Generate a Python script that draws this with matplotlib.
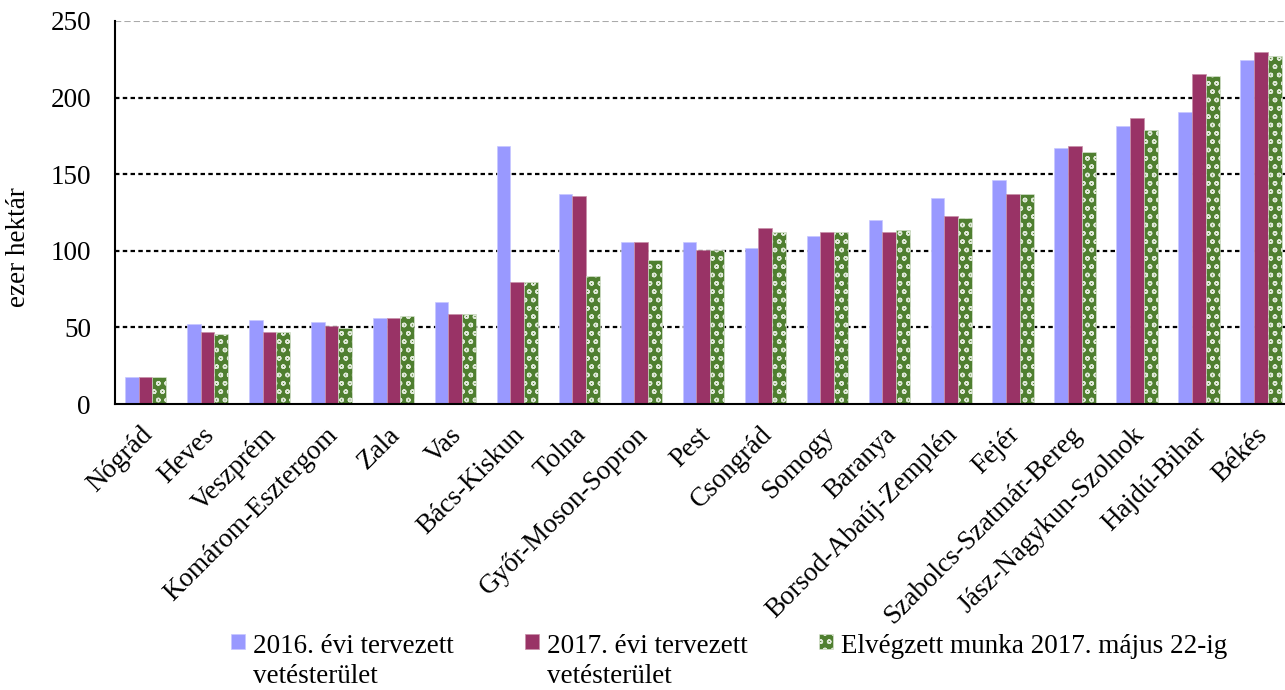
import matplotlib
matplotlib.use('Agg')
import matplotlib.pyplot as plt
import matplotlib.transforms as mtransforms
import numpy as np

plt.rcParams['font.family'] = ['Liberation Serif', 'DejaVu Serif']
plt.rcParams['hatch.linewidth'] = 1.0

# megyék
megyek = ['Nógrád', 'Heves', 'Veszprém', 'Komárom-Esztergom', 'Zala', 'Vas',
          'Bács-Kiskun', 'Tolna', 'Győr-Moson-Sopron', 'Pest', 'Csongrád',
          'Somogy', 'Baranya', 'Borsod-Abaúj-Zemplén', 'Fejér',
          'Szabolcs-Szatmár-Bereg', 'Jász-Nagykun-Szolnok', 'Hajdú-Bihar', 'Békés']

terv_2016 = [17.5, 52.3, 54.9, 53.6, 56.2, 66.7, 168.3, 137.3, 105.9, 105.9,
             102.0, 109.6, 120.1, 134.5, 146.0, 167.2, 181.3, 190.5, 224.5]
terv_2017 = [17.5, 47.1, 47.1, 51.0, 56.2, 58.8, 79.8, 135.8, 105.9, 100.7,
             114.9, 112.2, 112.2, 122.7, 137.1, 168.5, 186.6, 215.3, 229.7]
elvegzett = [17.5, 45.8, 47.1, 49.7, 57.5, 58.8, 79.8, 83.7, 94.2, 100.7,
             112.2, 112.2, 113.6, 121.4, 137.1, 164.6, 178.7, 214.0, 227.1]

cimkek = ['2016. évi tervezett\nvetésterület', '2017. évi tervezett\nvetésterület',
          'Elvégzett munka 2017. május 22-ig']

W, H = 1285, 690
fs = 19.5
fig = plt.figure(figsize=(W / 100, H / 100), dpi=100)
ax = fig.add_axes([114.5 / W, 1 - 404 / H, (1292 - 114.5) / W, 383 / H])

x = np.arange(len(megyek))
w = 0.222
b1 = ax.bar(x - w, terv_2016, w, color='#9999FF', edgecolor='#c8c8ff', linewidth=0.5, zorder=3)
b2 = ax.bar(x, terv_2017, w, color='#993366', edgecolor='#c890a8', linewidth=0.5, zorder=3)
b3 = ax.bar(x + w, elvegzett, w, color='#4f7f30', edgecolor='#dfe8d8', linewidth=0.4,
            hatch='oo', zorder=3)

ax.set_xlim(-0.5, len(megyek) - 0.5)
ax.set_ylim(0, 250)
ax.set_yticks([0, 50, 100, 150, 200, 250])
for v in [50, 100, 150, 200]:
    ax.axhline(v, color='black', lw=1.6, ls=(0, (2, 1.5)), zorder=1)
ax.axhline(250, color='#aaaaaa', lw=1.5, ls=(0, (3, 1.5)), zorder=1)

for s in ['top', 'right']:
    ax.spines[s].set_visible(False)
ax.spines['left'].set_linewidth(1.5)
ax.spines['bottom'].set_linewidth(1.5)
ax.spines['bottom'].set_zorder(4)

ax.tick_params(axis='y', length=0, pad=17, labelsize=fs)
ax.tick_params(axis='x', length=0, pad=8)
ax.set_xticks(x)
ax.set_xticklabels(megyek, rotation=45, ha='right', va='center',
                   rotation_mode='anchor', fontsize=fs)
off = mtransforms.ScaledTranslation(0.03, -0.16, fig.dpi_scale_trans)
for lab in ax.get_xticklabels():
    lab.set_transform(lab.get_transform() + off)

ax.set_ylabel('ezer hektár', fontsize=fs)
ax.yaxis.set_label_coords(-0.071, 0.41)

leg = fig.legend([b1, b2, b3], cimkek, loc='upper left', bbox_to_anchor=(231 / W, 1 - 634 / H),
                 ncol=3, frameon=False, fontsize=fs, handlelength=0.5, handleheight=0.5,
                 handletextpad=0.3, columnspacing=2.65, borderpad=0, borderaxespad=0,
                 labelspacing=0.2)
for t in leg.get_texts():
    t.set_linespacing(1.25)
# jelölő az első sorhoz igazítva
leg._legend_handle_box.align = 'top'
for col in leg._legend_handle_box.get_children():
    col.align = 'top'
    for item in col.get_children():
        item.align = 'top'

fig.savefig('out.png', dpi=100)
